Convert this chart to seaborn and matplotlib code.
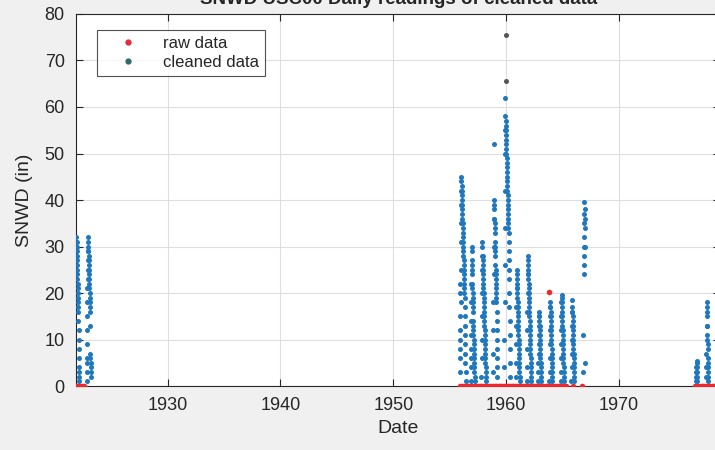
import numpy as np
import pandas as pd
import matplotlib
matplotlib.use("Agg")
import matplotlib.pyplot as plt
from matplotlib.lines import Line2D
import seaborn as sns

# snow depth readings (inches), one list per winter, readings every 4 days from the start date
DAY_STEP = 4 / 365.25
season_starts = [1921.87, 1922.80, 1955.88, 1956.85, 1957.82, 1958.85, 1959.85,
                 1960.88, 1961.85, 1962.85, 1963.85, 1964.85, 1965.80, 1966.85,
                 1976.85, 1977.75]
season_values = [
    [24, 27, 30, 32, 31, 29, 30, 28, 27, 26, 25, 24, 23, 22, 21, 20, 19, 18, 17, 16,
     14, 12, 10, 8, 6, 4, 3, 2, 1],
    [1, 3, 5, 6, 9, 12, 15, 18, 21, 23, 25, 27, 29, 31, 32, 30, 29, 28, 27, 26, 25,
     24, 23, 22, 21, 20, 19, 18, 17, 16, 13, 7, 6, 5, 4, 3, 2],
    [3, 8, 12, 6, 15, 10, 20, 22, 18, 25, 31, 35, 39, 42, 45, 44, 43, 42, 41, 40, 39,
     38, 37, 36, 35, 34, 33, 32, 31, 30, 29, 28, 27, 26, 25, 24, 23, 22, 21, 20, 19,
     17, 15, 13, 11, 9, 7, 5, 3, 1],
    [1, 4, 8, 6, 11, 14, 18, 22, 26, 30, 29, 27, 25, 24, 22, 21, 20, 19, 18, 17, 16,
     14, 13, 12, 11, 10, 9, 8, 7, 6, 5, 4, 3, 2, 1],
    [2, 6, 10, 15, 20, 25, 28, 31, 30, 28, 27, 26, 25, 24, 23, 22, 21, 20, 19, 18, 17,
     16, 15, 14, 13, 12, 11, 10, 9, 8, 7, 6, 5, 4, 3, 2, 1],
    [3, 7, 12, 18, 24, 30, 36, 40, 52, 39, 38, 36, 35, 34, 33, 31, 30, 29, 28, 26, 25,
     24, 23, 22, 21, 20, 19, 18, 16, 14, 12, 10, 8, 6, 4, 2],
    [4, 10, 18, 26, 34, 42, 50, 55, 58, 62, 57, 56, 55, 54, 53, 52, 51, 50, 49, 48, 47,
     46, 45, 44, 43, 42, 41, 40, 39, 38, 37, 36, 35, 34, 33, 31, 29, 27, 25, 23, 20,
     17, 14, 11, 8, 5, 2],
    [2, 5, 9, 13, 17, 21, 25, 24, 23, 22, 21, 20, 19, 18, 17, 16, 15, 14, 13, 12, 11,
     10, 9, 8, 7, 6, 5, 4, 3, 2, 1],
    [1, 4, 8, 12, 16, 20, 24, 28, 27, 26, 25, 24, 23, 22, 21, 20, 19, 18, 17, 16, 15,
     14, 13, 12, 11, 10, 9, 8, 7, 6, 5, 4, 3, 2, 1],
    [1, 3, 5, 7, 9, 11, 13, 15, 16, 15, 14, 13, 12, 11, 10, 9, 8, 7, 6, 5, 4, 3, 2, 1],
    [1, 3, 6, 9, 12, 15, 17, 18, 17, 16, 15, 14, 13, 12, 11, 10, 9, 8, 7, 6, 5, 4, 3,
     2, 1],
    [1, 3, 6, 9, 12, 15, 18, 19.5, 19, 18, 17, 16, 15, 14, 13, 12, 11, 10, 9, 8, 7, 6,
     5, 4, 3, 2, 1],
    [1, 4, 7, 10, 13, 16, 18.5, 17, 16, 15, 14, 13, 12, 11, 10, 9, 8, 7, 6, 5, 4, 3,
     2, 1],
    [3, 11, 24, 26, 28, 30, 32, 35, 37, 39.5, 38, 36, 34, 30, 5],
    [1, 2, 3, 4, 5, 5.5, 4, 3, 2, 1],
    [2, 4, 7, 10, 13, 16, 18, 17, 15, 13, 11, 9, 8, 6, 5, 4, 3, 2, 1],
]

# raw readings dropped by the cleaning (zeros and one spike)
raw_dates = [1921.87, 1921.95, 1922.05, 1922.15, 1922.3, 1922.45, 1922.6,
             1955.95, 1956.1, 1956.3, 1956.5, 1956.65, 1956.8, 1957.0, 1957.2,
             1957.35, 1957.5, 1957.65, 1957.8, 1958.0, 1958.15, 1958.3, 1958.5,
             1958.65, 1958.8, 1959.0, 1959.15, 1959.35, 1959.5, 1959.65, 1959.8,
             1960.0, 1960.2, 1960.35, 1960.5, 1960.65, 1960.8, 1961.0, 1961.15,
             1961.3, 1961.5, 1961.65, 1961.8, 1962.0, 1962.15, 1962.35, 1962.5,
             1962.65, 1962.8, 1963.0, 1963.15, 1963.3, 1963.5, 1963.65, 1963.8,
             1964.0, 1964.15, 1964.3, 1964.5, 1964.65, 1964.8, 1965.0, 1965.15,
             1965.3, 1965.9, 1966.75,
             1976.75, 1976.9, 1977.05, 1977.2, 1977.35, 1977.5, 1977.65, 1977.8,
             1977.95, 1978.1, 1978.25, 1978.4, 1978.55,
             1963.8]
raw_values = [0] * 79 + [20.3]

# flagged spikes shown in grey
spike_dates = [1960.0, 1960.0]
spike_values = [75.5, 65.5]

rows = []
for start, vals in zip(season_starts, season_values):
    for i, v in enumerate(vals):
        rows.append((start + i * DAY_STEP, v))
clean = pd.DataFrame(rows, columns=["date", "snwd"])
raw = pd.DataFrame({"date": raw_dates, "snwd": raw_values})
spikes = pd.DataFrame({"date": spike_dates, "snwd": spike_values})

sns.set_style("ticks")
plt.rcParams["font.family"] = ["Liberation Sans", "DejaVu Sans"]

fig = plt.figure(figsize=(7.15, 4.5), dpi=100)
fig.patch.set_facecolor("#f0f0f0")
ax = fig.add_axes([0.106, 0.142, 0.901, 0.827])
ax.set_facecolor("white")

sns.scatterplot(data=raw, x="date", y="snwd", color="#f0282d", s=16, linewidth=0,
                ax=ax, legend=False, zorder=3)
sns.scatterplot(data=clean, x="date", y="snwd", color="#1f77bd", s=13, linewidth=0,
                ax=ax, legend=False, zorder=4)
sns.scatterplot(data=spikes, x="date", y="snwd", color="#555555", s=13, linewidth=0,
                ax=ax, legend=False, zorder=4)

ax.set_xlim(1921.85, 1978.97)
ax.set_ylim(0, 80)
ax.set_xticks([1930, 1940, 1950, 1960, 1970])
ax.set_yticks(range(0, 81, 10))
ax.grid(True, color="#dedede", linewidth=0.8)
ax.set_axisbelow(True)
for side in ["top", "right", "left", "bottom"]:
    ax.spines[side].set_visible(True)
    ax.spines[side].set_color("#262626")
    ax.spines[side].set_linewidth(0.8)
ax.tick_params(direction="in", top=True, right=True, length=5, width=0.8,
               labelsize=13, colors="#262626", pad=8)

ax.set_xlabel("Date", fontsize=14, color="#262626", labelpad=4)
ax.set_ylabel("SNWD (in)", fontsize=14, color="#262626", labelpad=8)
fig.text(0.557, 0.991, "SNWD USC00 Daily readings of cleaned data", ha="center",
         va="baseline", fontsize=13.5, fontweight="bold", color="#262626")

handles = [
    Line2D([], [], linestyle="none", marker="o", markersize=3.5, color="#e8283c"),
    Line2D([], [], linestyle="none", marker="o", markersize=3.5, color="#2f6b6a"),
]
leg = ax.legend(handles, ["raw data", "cleaned data"], loc="upper left",
                bbox_to_anchor=(0.033, 0.957), borderaxespad=0, fontsize=12,
                frameon=True, fancybox=False, edgecolor="#262626",
                handlelength=3.0, handletextpad=0.6, borderpad=0.35,
                labelspacing=0.25)
leg.get_frame().set_linewidth(0.8)

fig.savefig("out.png", dpi=100, facecolor=fig.get_facecolor())
